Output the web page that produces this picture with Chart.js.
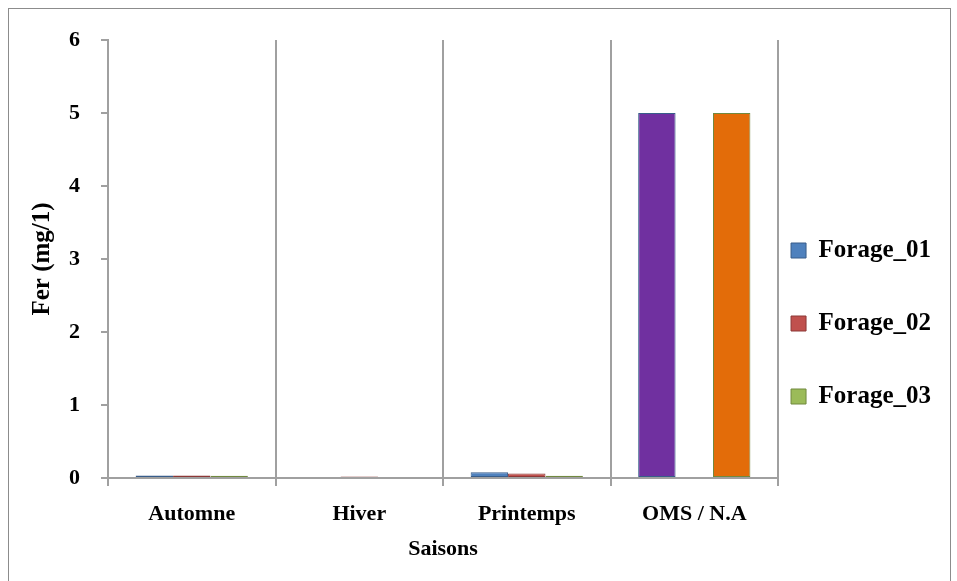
<!DOCTYPE html>
<html>
<head>
<meta charset="utf-8">
<script src="https://cdn.jsdelivr.net/npm/chart.js@4.4.0/dist/chart.umd.min.js"></script>
<style>
    html, body { margin: 0; padding: 0; background: #fff; overflow: hidden; }
    #frame { position: absolute; left: 8px; top: 8px; width: 941px; height: 590px; border: 1px solid #8c8c8c; }
    #c { display: block; }
</style>
</head>
<body>
<div id="frame"><canvas id="c"></canvas></div>
<script>
const categories = ['Automne', 'Hiver', 'Printemps', 'OMS / N.A'];
const forage01 = [0.033, 0, 0.08, 5];
const forage02 = [0.035, 0.02, 0.06, 0];
const forage03 = [0.03, 0.015, 0.03, 5];
const yTicks = [0, 1, 2, 3, 4, 5, 6];

const serif = '"Liberation Serif", "DejaVu Serif", serif';
const axisGray = '#a0a0a0';
const legendPadding = 48;

const canvas = document.getElementById('c');
canvas.width = 941;
canvas.height = 580;
canvas.style.width = '941px';
canvas.style.height = '580px';

// put the legend just right of the plot, like the Excel original
const legendPlace = {
    id: 'legendPlace',
    afterLayout(chart) {
        const lg = chart.legend;
        lg.left = chart.chartArea.right + 13 - legendPadding;
        lg.right = lg.left + lg.width;
        lg.top += 22;
        lg.bottom += 22;
    }
};

new Chart(canvas.getContext('2d'), {
    type: 'bar',
    data: {
        labels: categories,
        datasets: [
            {
                label: 'Forage_01',
                data: forage01,
                backgroundColor: ['#4f81bd', '#4f81bd', '#4f81bd', '#7030a0'],
                borderColor: '#385d8a',
                borderWidth: 1,
                borderSkipped: false
            },
            {
                label: 'Forage_02',
                data: forage02,
                backgroundColor: '#c0504d',
                borderColor: '#8c3836',
                borderWidth: 1,
                borderSkipped: false
            },
            {
                label: 'Forage_03',
                data: forage03,
                backgroundColor: ['#9bbb59', '#9bbb59', '#9bbb59', '#e36c09'],
                borderColor: '#71893f',
                borderWidth: 1,
                borderSkipped: false
            }
        ]
    },
    options: {
        responsive: false,
        animation: false,
        categoryPercentage: 0.67,
        barPercentage: 1,
        layout: { padding: { top: 31, right: -26, bottom: 26, left: 19 } },
        plugins: {
            tooltip: { enabled: false },
            legend: {
                position: 'right',
                labels: {
                    color: '#000',
                    font: { family: serif, size: 25, weight: 'bold' },
                    boxWidth: 15,
                    boxHeight: 15,
                    padding: legendPadding
                }
            }
        },
        scales: {
            x: {
                afterFit: axis => { axis.height = 85; },
                grid: {
                    color: axisGray,
                    lineWidth: 2,
                    tickLength: 8
                },
                border: { color: axisGray, width: 2 },
                ticks: {
                    color: '#000',
                    font: { family: serif, size: 22, weight: 'bold' },
                    padding: 15
                },
                title: {
                    display: true,
                    text: 'Saisons',
                    color: '#000',
                    font: { family: serif, size: 22, weight: 'bold' },
                    padding: { top: 0, bottom: 0 }
                }
            },
            y: {
                min: 0,
                max: 6,
                afterBuildTicks: axis => { axis.ticks = yTicks.map(v => ({ value: v })); },
                afterFit: axis => {
                    axis.width = 80;
                    axis.paddingTop = 0;
                    axis.paddingBottom = 0;
                },
                grid: {
                    drawOnChartArea: false,
                    color: axisGray,
                    lineWidth: 2,
                    tickLength: 7
                },
                border: { color: axisGray, width: 2 },
                ticks: {
                    color: '#000',
                    font: { family: serif, size: 22, weight: 'bold' },
                    padding: 21
                },
                title: {
                    display: true,
                    text: 'Fer (mg/1)',
                    color: '#000',
                    font: { family: serif, size: 25, weight: 'bold' },
                    padding: { top: 0, bottom: 0 }
                }
            }
        }
    },
    plugins: [legendPlace]
});
</script>
</body>
</html>
